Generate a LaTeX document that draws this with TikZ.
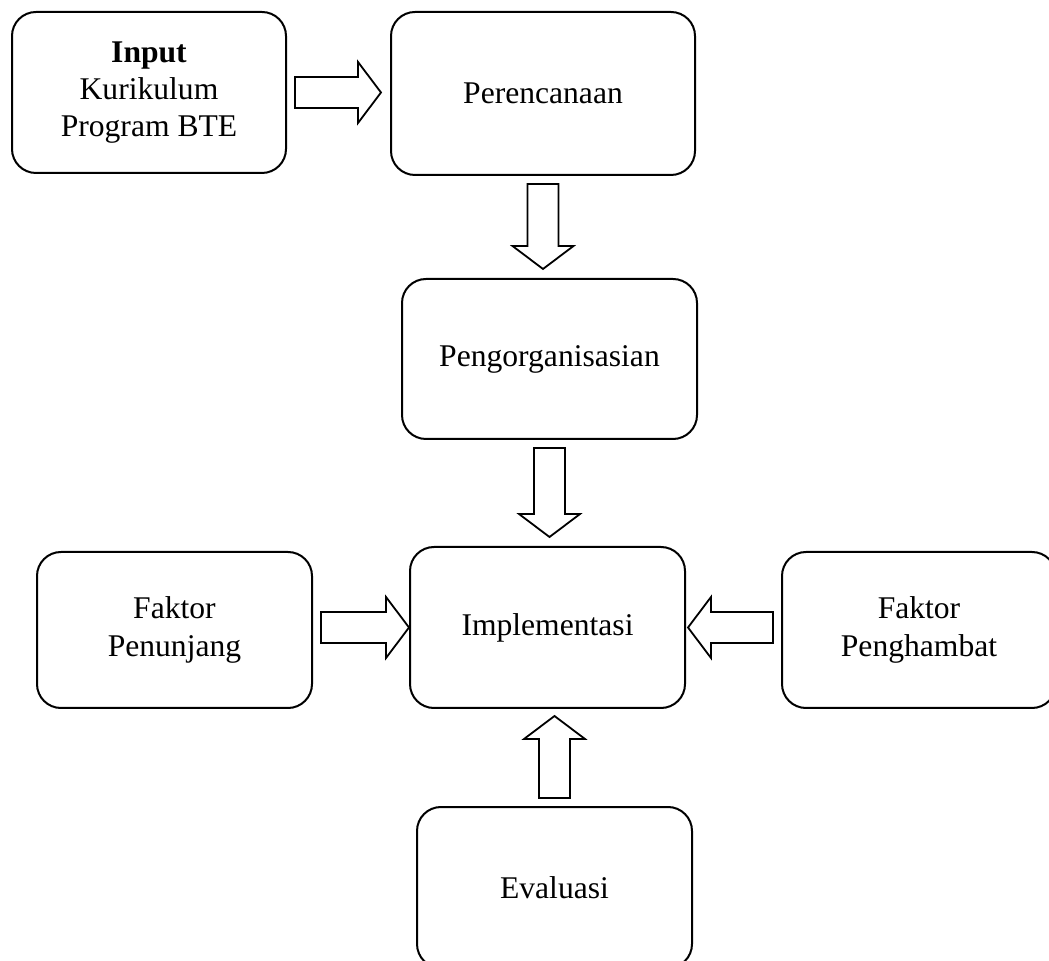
\documentclass[tikz,border=0pt]{standalone}
\usepackage{fontspec}
\setmainfont{Liberation Serif}
\usetikzlibrary{calc}

\begin{document}
\begin{tikzpicture}[x=0.5pt, y=-0.5pt,
        box/.style={draw, line width=1pt, rounded corners=12pt, align=center,
            font=\fontsize{15.8}{18.6}\selectfont},
        bigarrow/.style={draw, line width=0.9pt, fill=white, to path={
            ($(\tikztostart)!4pt!(\tikztotarget)$) coordinate (ta)
            ($(\tikztotarget)!#1!(\tikztostart)$) coordinate (tb)
            ($(tb)!11.5pt!(ta)$) coordinate (tc)
            ($(ta)!7.75pt!90:(tb)$) -- ($(tc)!7.75pt!-90:(ta)$) -- ($(tc)!15.25pt!-90:(ta)$)
            -- (tb) -- ($(tc)!15.25pt!90:(ta)$) -- ($(tc)!7.75pt!90:(ta)$)
            -- ($(ta)!7.75pt!-90:(tb)$) -- cycle}},
        bigarrow/.default=4.5pt]
            \useasboundingbox (0,0) rectangle (1049,961);
            \clip (0,0) rectangle (1049,961);

            \node[box, minimum width=137pt, minimum height=80.5pt] (inp) at (149,92.5)
                {\textbf{Input}\\Kurikulum\\Program BTE};
            \node[box, minimum width=152pt, minimum height=81.5pt] (per) at (543,93.5) {Perencanaan};
            \node[box, minimum width=147.5pt, minimum height=80pt] (org) at (549.5,359) {Pengorganisasian};
            \node[box, minimum width=137.5pt, minimum height=80.5pt] (imp) at (547.5,627.5) {Implementasi};
            \node[box, minimum width=137.5pt, minimum height=78pt] (pen) at (174.5,630) {Faktor\\Penunjang};
            \node[box, minimum width=137pt, minimum height=78pt] (ham) at (919,630) {Faktor\\Penghambat};
            \node[box, minimum width=137.5pt, minimum height=80.5pt] (eva) at (554.5,887.5) {Evaluasi};

            \draw[bigarrow] (inp.east) to (inp.east -| per.west);
            \draw[bigarrow] (per.south) to (per.south |- org.north);
            \draw[bigarrow] (org.south) to (org.south |- imp.north);
            \draw[bigarrow=0pt] (pen.east |- imp.west) to (imp.west);
            \draw[bigarrow=1pt] (ham.west |- imp.east) to (imp.east);
            \draw[bigarrow=3.5pt] (eva.north) to (eva.north |- imp.south);
\end{tikzpicture}
\end{document}
